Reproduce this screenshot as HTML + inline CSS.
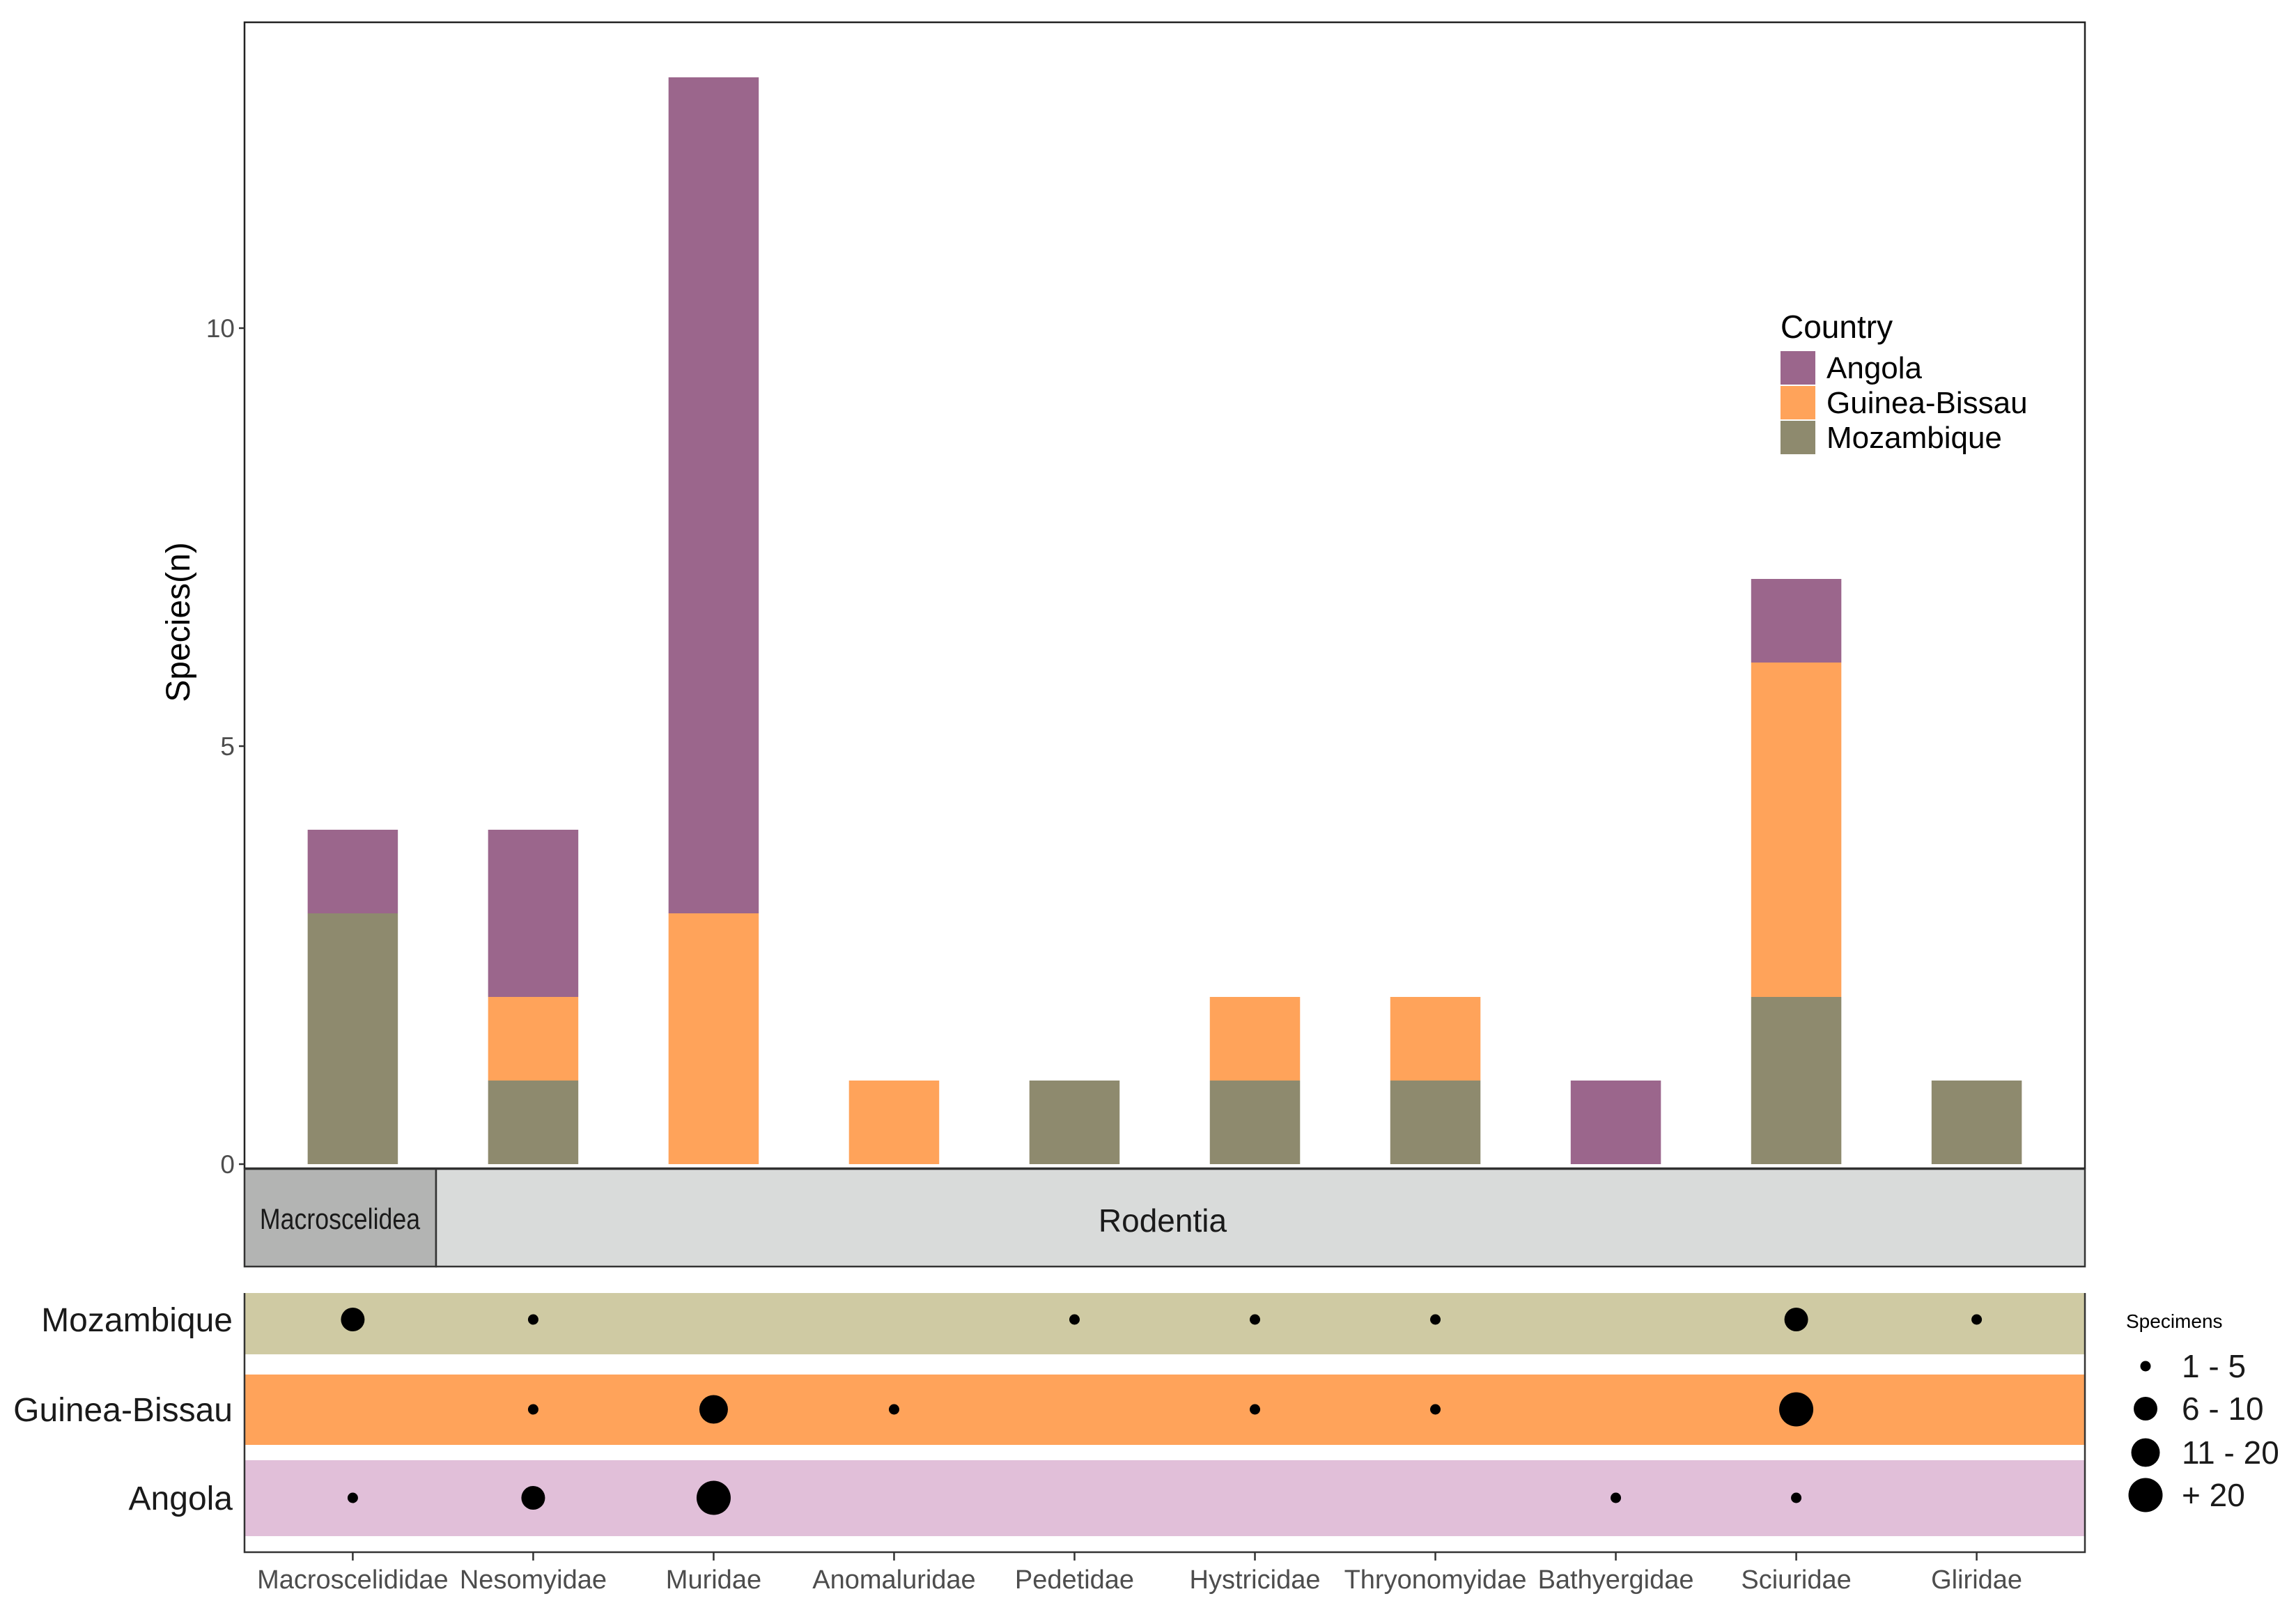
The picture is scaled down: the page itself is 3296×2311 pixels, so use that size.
<!DOCTYPE html>
<html><head><meta charset="utf-8"><style>
html,body{margin:0;padding:0;background:#fff;}
svg{display:block;font-family:"Liberation Sans",Arial,sans-serif;}
</style></head><body>
<svg id="chart" width="3296" height="2311" viewBox="0 0 3296 2311" xmlns="http://www.w3.org/2000/svg">
<g id="barsLayer"></g>
<g id="dotsLayer"></g>
<g id="legendLayer"></g>
</svg>
<script>
const families = ["Macroscelididae","Nesomyidae","Muridae","Anomaluridae","Pedetidae","Hystricidae","Thryonomyidae","Bathyergidae","Sciuridae","Gliridae"];
const countries = ["Mozambique","Guinea-Bissau","Angola"];
const mozambiqueSpecies = [3,1,0,0,1,1,1,0,2,1];
const guineaSpecies = [0,1,3,1,0,1,1,0,4,0];
const angolaSpecies = [1,2,10,0,0,0,0,1,1,0];
const yTicks = [0,5,10];
const mozambiqueSpecimenClass = [1,0,-1,-1,0,0,0,-1,1,0];
const guineaSpecimenClass = [-1,0,2,0,-1,0,0,-1,3,-1];
const angolaSpecimenClass = [0,1,3,-1,-1,-1,-1,0,0,-1];
const specimenLabels = ["1 - 5","6 - 10","11 - 20","+ 20"];

const NS="http://www.w3.org/2000/svg";
function mk(tag, attrs, parent){const e=document.createElementNS(NS,tag);for(const k in attrs)e.setAttribute(k,attrs[k]);parent.appendChild(e);return e;}
const L=351,R=2993,T=32,B=1677;
const step=(R-L)/(families.length-1+1.2);
function xPos(i){return L+step*(0.6+i);}
function yPos(v){return 1671-v*120;}
const colors={"Mozambique":"#8e8a6e","Guinea-Bissau":"#ffa35a","Angola":"#9b668c"};
const bandColors={"Mozambique":"#cfcaa3","Guinea-Bissau":"#ffa35a","Angola":"#e1bfd9"};
const radii=[7.5,17,20.5,24.5];

const bl=document.getElementById('barsLayer');
let pb=mk('rect',{x:L,y:T,width:R-L,height:B-T,fill:'none',stroke:'#222','stroke-width':2.5},bl);


yTicks.forEach(t=>{
  const tk=mk('line',{x1:L-8,x2:L,y1:yPos(t),y2:yPos(t),stroke:'#333','stroke-width':2.5},bl);
  
  
  const tl=mk('text',{x:L-14,y:yPos(t)+13,'text-anchor':'end','font-size':37,fill:'#4d4d4d'},bl);
  tl.textContent=t;
  
  
});
const yt=mk('text',{x:0,y:0,transform:'translate(272,893) rotate(-90)','text-anchor':'middle','font-size':48,fill:'#000'},bl);
yt.textContent='Species(n)';


const series=[["Mozambique",mozambiqueSpecies],["Guinea-Bissau",guineaSpecies],["Angola",angolaSpecies]];
const bw=step*0.5;
families.forEach((f,i)=>{
  let base=0;
  series.forEach(([c,vals])=>{
    const v=vals[i]; if(!v)return;
    const r=mk('rect',{x:xPos(i)-bw/2,y:yPos(base+v),width:bw,height:yPos(base)-yPos(base+v),fill:colors[c]},bl);
    
    
    base+=v;
  });
});
const s1=mk('rect',{x:L,y:1678,width:275,height:140,fill:'#b3b4b3',stroke:'#333','stroke-width':2.5},bl);


const s2=mk('rect',{x:L+275,y:1678,width:R-L-275,height:140,fill:'#d9dbda',stroke:'#333','stroke-width':2.5},bl);


const st1=mk('text',{x:L+137,y:1764,'text-anchor':'middle','font-size':42,fill:'#1a1a1a',transform:'translate('+(L+137)+',0) scale(0.85,1) translate('+(-(L+137))+',0)'},bl);
st1.textContent='Macroscelidea';


const st2=mk('text',{x:1669,y:1768,'text-anchor':'middle','font-size':46,fill:'#1a1a1a'},bl);
st2.textContent='Rodentia';



const dl=document.getElementById('dotsLayer');
const bands={"Mozambique":[1856,1944,1894],"Guinea-Bissau":[1973,2074,2023],"Angola":[2096,2205,2150]};
const dotSeries={"Mozambique":mozambiqueSpecimenClass,"Guinea-Bissau":guineaSpecimenClass,"Angola":angolaSpecimenClass};
countries.forEach(c=>{
  const [y1,y2,yc]=bands[c];
  const b=mk('rect',{x:L,y:y1,width:R-L,height:y2-y1,fill:bandColors[c]},dl);
  
  
  const lab=mk('text',{x:334,y:yc+17,'text-anchor':'end','font-size':48,fill:'#1a1a1a'},dl);
  lab.textContent=c;
  
  
  dotSeries[c].forEach((k,i)=>{
    if(k<0)return;
    const d=mk('ellipse',{cx:xPos(i),cy:yc,rx:radii[k],ry:radii[k]*1.0,fill:'#000'},dl);
    
    
  });
});
const ax=mk('path',{d:`M${L} 1856 V2228 H${R} V1856`,fill:'none',stroke:'#333','stroke-width':2.5},dl);


families.forEach((f,i)=>{
  const tk=mk('line',{x1:xPos(i),x2:xPos(i),y1:2228,y2:2240,stroke:'#333','stroke-width':2.5},dl);
  
  
  const tl=mk('text',{x:xPos(i),y:2280,'text-anchor':'middle','font-size':38,fill:'#4d4d4d'},dl);
  tl.textContent=f;
  
  
});

const gl=document.getElementById('legendLayer');
const lt=mk('text',{x:2556,y:485,'font-size':46,fill:'#000'},gl);
lt.textContent='Country';


["Angola","Guinea-Bissau","Mozambique"].forEach((c,j)=>{
  const cy=528+j*50;
  const k=mk('rect',{x:2556,y:cy-24,width:50,height:48,fill:colors[c]},gl);
  
  
  const t=mk('text',{x:2622,y:cy+15,'font-size':44,fill:'#000'},gl);
  t.textContent=c;
  
  
});
const st=mk('text',{x:3052,y:1906,'font-size':28,fill:'#000'},gl);
st.textContent='Specimens';


specimenLabels.forEach((s,j)=>{
  const cy=[1961,2022,2085,2146][j];
  const d=mk('circle',{cx:3080,cy:cy,r:radii[j]},gl);
  
  
  const t=mk('text',{x:3132,y:cy+16,'font-size':46,fill:'#1a1a1a'},gl);
  t.textContent=s;
  
  
});
</script>
</body></html>
